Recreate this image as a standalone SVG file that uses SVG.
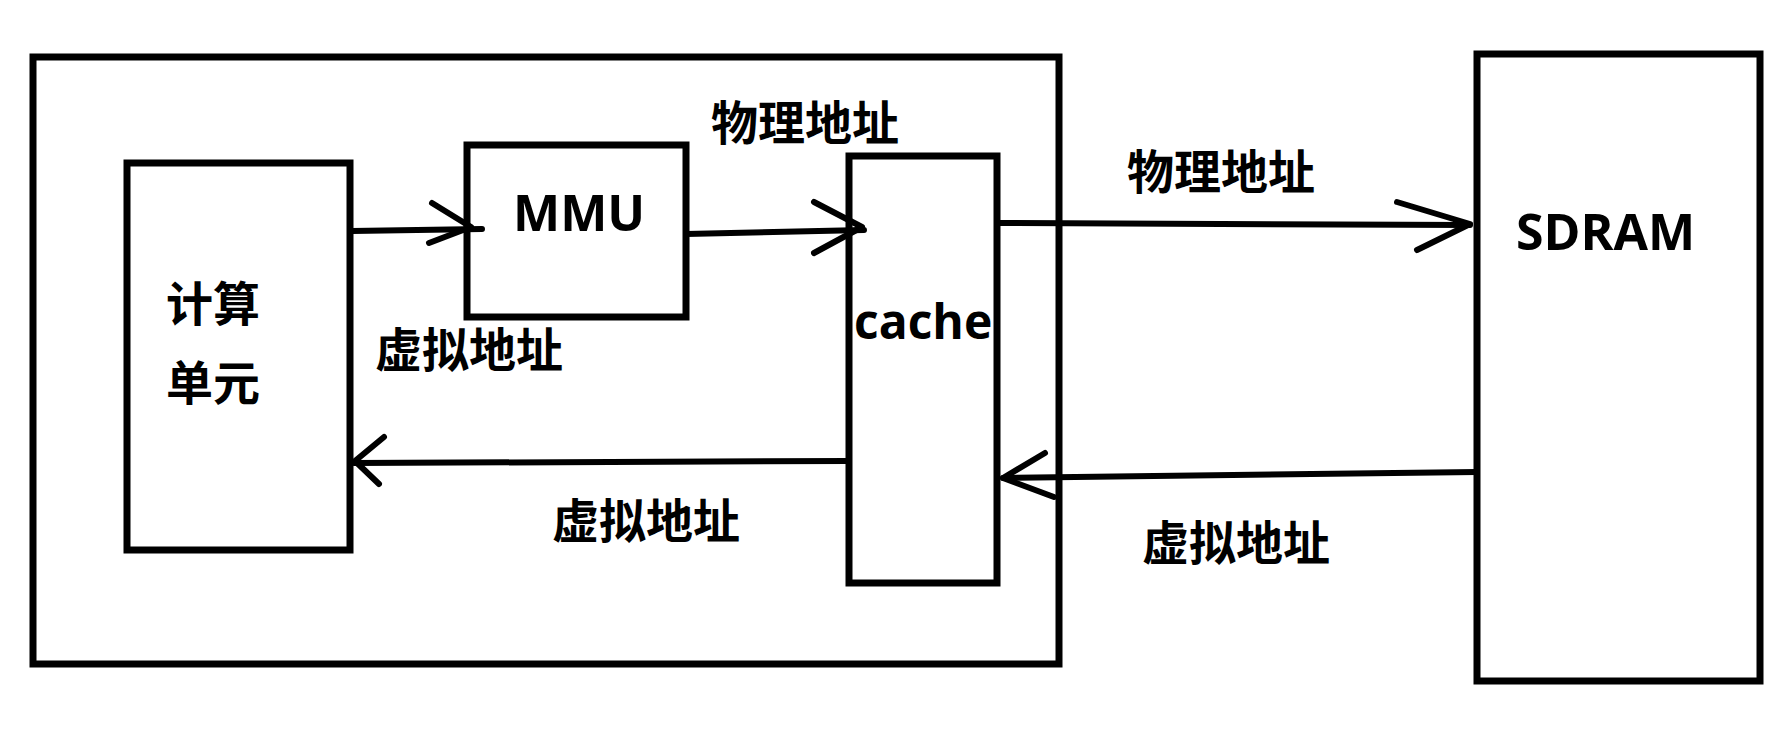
<svg xmlns="http://www.w3.org/2000/svg" width="1783" height="735" viewBox="0 0 1783 735">
<style>
.box{fill:none;stroke:#000;stroke-width:7}
.ln{fill:none;stroke:#000;stroke-width:6;stroke-linecap:round;stroke-linejoin:round}
.cjk{font-family:"Noto Sans CJK SC","Noto Sans CJK TC",sans-serif;font-weight:bold;font-size:47px;fill:#000}
.lat{font-family:"Open Sans","Noto Sans",sans-serif;font-weight:bold;font-size:50px;fill:#000}
</style>
<rect width="1783" height="735" fill="#fff"/>
<g id="outer"><rect class="box" x="33" y="57" width="1026" height="607"/></g>
<g id="compute">
<rect class="box" x="127" y="163" width="223" height="387"/>
<text class="cjk" x="166" y="321">计算</text>
<text class="cjk" x="166" y="400">单元</text>
</g>
<g id="mmu">
<rect class="box" x="467" y="145" width="219" height="172"/>
<text class="lat" x="513" y="231">MMU</text>
</g>
<g id="cache">
<rect class="box" x="849" y="156" width="148" height="427"/>
<text class="lat" x="854" y="339" style="font-size:48px">cache</text>
</g>
<g id="sdram">
<rect class="box" x="1477" y="54" width="283" height="627"/>
<text class="lat" x="1516" y="250">SDRAM</text>
</g>
<g id="connectors">
<path class="ln" d="M352,231 L482,229"/>
<path class="ln" d="M432,203 L471,227 L429,243"/>
<path class="ln" d="M686,234 L864,230"/>
<path class="ln" d="M814,202 L862,227 L814,253"/>
<path class="ln" d="M997,223 L1470,225"/>
<path class="ln" d="M1397,202 L1470,224 L1417,250"/>
<path class="ln" d="M849,461 L354,463"/>
<path class="ln" d="M384,437 L355,461 L379,484"/>
<path class="ln" d="M1477,472 L1003,478"/>
<path class="ln" d="M1045,453 L1003,478 L1054,497"/>
</g>
<g id="labels">
<text class="cjk" x="375" y="367">虚拟地址</text>
<text class="cjk" x="711" y="140">物理地址</text>
<text class="cjk" x="1127" y="189">物理地址</text>
<text class="cjk" x="552" y="538">虚拟地址</text>
<text class="cjk" x="1142" y="560">虚拟地址</text>
</g>
</svg>
